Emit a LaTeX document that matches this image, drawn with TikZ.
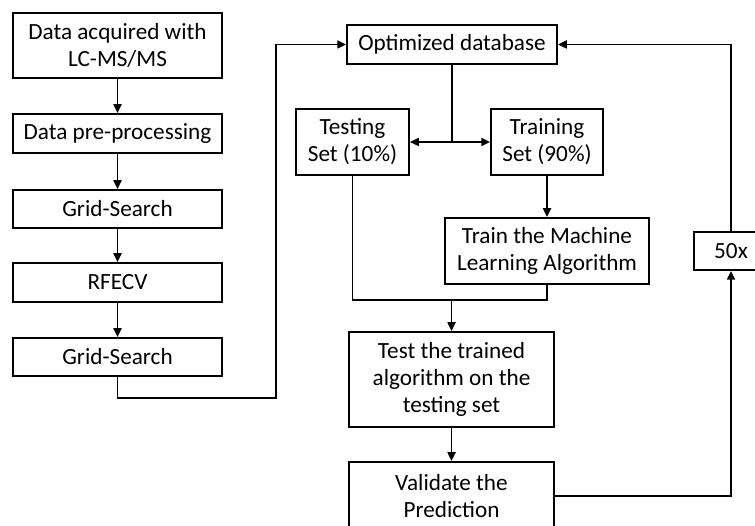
\documentclass[tikz,border=0pt]{standalone}
\usepackage{fontspec}
\setmainfont{Carlito}
\usepackage{tikz}
\usetikzlibrary{arrows.meta,calc}

\begin{document}
\begin{tikzpicture}[line width=1.1pt,
  box/.style={draw,align=center,inner sep=2pt,font=\fontsize{13.2}{15.4}\selectfont},
  arr/.style={-{Triangle[length=5pt,width=4.5pt]}}]
\clip (0,0) rectangle (15.1,10.52);
% left column
\node[box,minimum width=4.18cm,minimum height=1.3cm] (acq) at (2.35,9.61) {Data acquired with\\LC-MS/MS};
\node[box,minimum width=4.18cm,minimum height=0.78cm] (prep) at (2.35,7.85) {Data pre-processing};
\node[box,minimum width=4.18cm,minimum height=0.76cm] (grida) at (2.35,6.34) {Grid-Search};
\node[box,minimum width=4.18cm,minimum height=0.78cm] (rfecv) at (2.35,4.87) {RFECV};
\node[box,minimum width=4.18cm,minimum height=0.76cm] (gridb) at (2.35,3.38) {Grid-Search};
% right part
\node[box,minimum width=4.2cm,minimum height=0.78cm] (db) at (9.04,9.63) {Optimized database};
\node[box,minimum width=2.26cm,minimum height=1.32cm] (testset) at (7.05,7.68) {Testing\\Set (10\%)};
\node[box,minimum width=2.24cm,minimum height=1.32cm] (trainset) at (10.94,7.68) {Training\\Set (90\%)};
\node[box,minimum width=4.08cm,minimum height=1.32cm] (trainml) at (10.94,5.5) {Train the Machine\\Learning Algorithm};
\node[box,minimum width=4.1cm,minimum height=1.9cm] (testalg) at (9.03,2.93) {Test the trained\\algorithm on the\\testing set};
\node[box,minimum width=4.1cm,minimum height=1.36cm] (valid) at (9.03,0.6) {Validate the\\Prediction};
\node[box,minimum width=1.48cm,minimum height=0.76cm] (rep) at (14.62,5.5) {50x};
% connectors
\draw[arr](acq)--(prep);
\draw[arr](prep)--(grida);
\draw[arr](grida)--(rfecv);
\draw[arr](rfecv)--(gridb);
\coordinate (turn) at (5.52,2.56);
\draw[arr](gridb.south)|-(turn)|-(db.west);
\coordinate (split) at (db.south|-testset.east);
\draw(db.south)--(split);
\draw[arr](split)--(testset.east);
\draw[arr](split)--(trainset.west);
\draw[arr](trainset)--(trainml);
\coordinate (merge) at ($(testalg.north)+(0,0.62)$);
\draw(testset.south)|-(merge)(trainml.south)|-(merge);
\draw[arr](merge)--(testalg.north);
\draw[arr](testalg)--(valid);
\draw[arr](valid.east)-|(rep.south);
\draw[arr](rep.north)|-(db.east);
\end{tikzpicture}
\end{document}
